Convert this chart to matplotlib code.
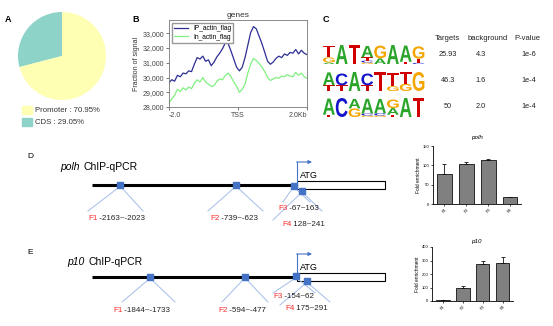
import numpy as np
import matplotlib.pyplot as plt
from matplotlib.patches import Rectangle, PathPatch
from matplotlib.textpath import TextPath
from matplotlib.font_manager import FontProperties
from matplotlib.transforms import Affine2D
from matplotlib.ticker import FuncFormatter

plt.rcParams['font.family'] = ['Liberation Sans', 'DejaVu Sans']

W, H = 553, 326

# ---- data ----
# A: peak annotation
region_names = ['CDS', 'Promoter']
region_pct = [29.05, 70.95]
region_colors = ['#8dd3c7', '#ffffb3']

# B: signal profile around TSS
profile_x = np.linspace(-2, 2, 50)
ip_signal = [29650, 29850, 29750, 30150, 30050, 30300, 30250, 30450, 30400, 30900,
             31350, 31250, 31450, 31100, 31200, 30800, 31050, 31400, 31650, 31950,
             32350, 32300, 31800, 31250, 30700, 30450, 30700, 31350, 32200, 33050,
             33450, 33300, 32800, 32300, 31700, 31100, 30900, 31050, 31300, 31450,
             31350, 31600, 31500, 31700, 31650, 31900, 31600, 31850, 31650, 31550]
input_signal = [28300, 28550, 28800, 29200, 29050, 29300, 29150, 29350, 29250, 29600,
                29850, 29700, 30000, 29700, 29550, 29400, 29450, 29750, 29900, 29850,
                30150, 30300, 30050, 29700, 29400, 29000, 29200, 29550, 30300, 30900,
                31300, 31150, 30950, 30700, 30400, 30000, 29800, 29900, 30000, 29950,
                30100, 30050, 30200, 30100, 30050, 30350, 30150, 30300, 30050, 29950]

# C: motifs, each column stacked bottom -> top as (letter, fraction)
motif_1 = [[('A', .08), ('G', .27), ('T', .62)], [('A', 1)], [('T', 1)],
           [('G', .08), ('C', .1), ('T', .17), ('A', .6)], [('A', .3), ('G', .67)],
           [('A', 1)], [('T', .12), ('A', .85)], [('C', .06), ('T', .22), ('G', .65)]]
motif_2 = [[('T', .3), ('A', .68)], [('T', .3), ('C', .62)], [('A', 1)],
           [('T', .3), ('C', .62)], [('T', 1)], [('G', .25), ('T', .72)],
           [('G', .38), ('T', .6)], [('G', 1)]]
motif_3 = [[('T', .12), ('A', .85)], [('C', 1)], [('G', .45), ('A', .5)],
           [('G', .08), ('C', .1), ('A', .78)], [('G', .08), ('C', .12), ('A', .75)],
           [('T', .12), ('A', .35), ('G', .45)], [('A', 1)], [('T', 1)]]
motif_targets = ['25.93', '46.3', '50']
motif_background = ['4.3', '1.6', '2.0']
motif_pvalue = ['1e-6', '1e-4', '1e-4']

# D/E: primers and ChIP-qPCR
primer_names = ['F1', 'F2', 'F3', 'F4']
polh_ranges = ['-2163~-2023', '-739~-623', '-67~163', '128~241']
p10_ranges = ['-1844~-1733', '-594~-477', '-154~62', '175~291']
polh_enrich = [78, 103, 114, 18]
polh_err = [26, 5, 3.5, 1]
p10_enrich = [5, 100, 275, 280]
p10_err = [1, 11, 18, 44]

base_colors = {'A': '#2aa52a', 'C': '#1414cc', 'G': '#f5a500', 'T': '#d00000'}
blue = '#4472c4'
fan_blue = '#a3bde8'

fig = plt.figure(figsize=(W / 100, H / 100), dpi=100)


def px_axes(x0, y0, x1, y1):
    return fig.add_axes([x0 / W, 1 - y1 / H, (x1 - x0) / W, (y1 - y0) / H])


bg = fig.add_axes([0, 0, 1, 1])
bg.set_xlim(0, W)
bg.set_ylim(H, 0)
bg.axis('off')

# ---- A ----
bg.text(5, 19, 'A', fontsize=6.5, fontweight='bold', va='center')
pa = px_axes(18, 12, 106, 100)
pa.pie(region_pct, colors=region_colors, startangle=90, counterclock=True,
       wedgeprops={'linewidth': 0})
pa.set_xlim(-1, 1)
pa.set_ylim(-1, 1)
for k, i in enumerate([1, 0]):
    bg.add_patch(Rectangle((22, 106 + k * 12), 10, 8, color=region_colors[i]))
    bg.text(35, 110 + k * 12, f'{region_names[i]} : {region_pct[i]:.2f}%',
            fontsize=5.6, va='center', color='#333')

# ---- B ----
bg.text(132, 19, 'B', fontsize=6.5, fontweight='bold', va='center')
ba = px_axes(169, 20, 307, 107)
ba.plot(profile_x, ip_signal, color='#2e2e95', lw=0.9, label='IP_actin_flag')
ba.plot(profile_x, input_signal, color='#80f080', lw=0.9, label='In_actin_flag')
ba.set_xlim(-2, 2)
ba.set_ylim(28000, 33900)
ba.set_yticks([28000, 29000, 30000, 31000, 32000, 33000])
ba.yaxis.set_major_formatter(FuncFormatter(lambda v, p: f'{v:,.0f}'))
ba.set_xticks([-2, 0, 2])
ba.set_xticklabels(['-2.0', 'TSS', '2.0Kb'])
xl = ba.get_xticklabels()
xl[0].set_ha('left')
xl[2].set_ha('right')
ba.tick_params(labelsize=5, colors='#444', length=2, width=0.5, pad=1.5)
for s in ba.spines.values():
    s.set_color('#777')
    s.set_linewidth(0.6)
ba.set_title('genes', fontsize=6, pad=2, color='#333')
ba.set_ylabel('Fraction of signal', fontsize=5, color='#333', labelpad=2)
ba.legend(loc='upper left', fontsize=4.8, handlelength=2, borderpad=0.3,
          labelspacing=0.2, edgecolor='#999', fancybox=False, framealpha=1)

# ---- C ----
bg.text(323, 19, 'C', fontsize=6.5, fontweight='bold', va='center')
logo_font = FontProperties(family='Liberation Sans', weight='bold')


def draw_letter(ch, x, ybot, w, h):
    tp = TextPath((0, 0), ch, size=1, prop=logo_font)
    bb = tp.get_extents()
    tr = Affine2D().translate(-bb.x0, -bb.y0).scale(w / bb.width, -h / bb.height).translate(x, ybot)
    bg.add_patch(PathPatch(tr.transform_path(tp), fc=base_colors[ch], ec='none'))


row_bottom = [64, 91, 117]
full_h = 19
for motif, yb in zip([motif_1, motif_2, motif_3], row_bottom):
    for j, col in enumerate(motif):
        y = yb
        for ch, frac in col:
            h = frac * full_h
            draw_letter(ch, 323 + j * 12.8, y, 11.8, h)
            y -= h

for x, hdr in zip([447, 488, 527], ['Targets', 'background', 'P-value']):
    bg.text(x, 39, hdr, fontsize=5.5, ha='center', va='center', color='#222')
for k, yb in enumerate([54, 80, 107]):
    bg.text(448, yb, motif_targets[k], fontsize=5.3, ha='center', va='center', color='#222')
    bg.text(481, yb, motif_background[k], fontsize=5.3, ha='center', va='center', color='#222')
    bg.text(529, yb, motif_pvalue[k], fontsize=5.3, ha='center', va='center', color='#222')


# ---- D / E schematics ----
def draw_locus(tag, tag_y, gene, gene_x, title_y, line_y, squares, fans, labels, ranges):
    bg.text(27, tag_y, tag, fontsize=6, va='center')
    t = bg.text(gene_x, title_y, gene, style='italic', fontsize=7.5, va='center')
    bg.annotate('ChIP-qPCR', xy=(1, 0.5), xycoords=t, xytext=(4, 0),
                textcoords='offset pixels', va='center', fontsize=7.5)
    bg.plot([92, 297], [line_y, line_y], color='black', lw=2.2, solid_capstyle='butt')
    bg.add_patch(Rectangle((297, line_y - 4), 88, 8, fc='white', ec='black', lw=0.8))
    bg.plot([297, 297], [line_y, line_y - 23], color=blue, lw=0.8)
    bg.annotate('', xy=(312, line_y - 23), xytext=(296.6, line_y - 23),
                arrowprops=dict(arrowstyle='-|>', color=blue, lw=0.8, mutation_scale=5,
                                shrinkA=0, shrinkB=0))
    bg.text(300, line_y - 10, 'ATG', fontsize=6.5, va='center')
    for (sx, sy), (l0, l1) in zip(squares, fans):
        bg.plot([sx - 2, l0[0]], [sy + 3, l0[1]], color=fan_blue, lw=0.7, zorder=2)
        bg.plot([sx + 2, l1[0]], [sy + 3, l1[1]], color=fan_blue, lw=0.7, zorder=2)
    for sx, sy in squares:
        bg.add_patch(Rectangle((sx - 3, sy - 3), 6, 6, color=blue, zorder=3))
    for name, rng, (lx, ly) in zip(primer_names, ranges, labels):
        t1 = bg.text(lx, ly, name, color='#ff2a2a', fontsize=5.8, va='center')
        bg.annotate(' ' + rng, xy=(1, 0.5), xycoords=t1, va='center', fontsize=5.8, color='#222')


draw_locus('D', 157, 'polh', 60, 167, 185,
           [(120, 185), (236, 185), (294, 186), (302, 191)],
           [((88, 211), (143, 211)), ((208, 211), (263, 211)),
            ((283, 202), (310, 202)), ((273, 220), (322, 211))],
           [(88, 218), (210, 218), (278, 209), (282, 225)], polh_ranges)
draw_locus('E', 253, 'p10', 67, 262, 277,
           [(150, 277), (245, 277), (296, 276), (307, 281)],
           [((122, 302), (175, 302)), ((222, 302), (268, 302)),
            ((273, 293), (315, 293)), ((280, 305), (330, 302))],
           [(113, 310), (218, 310), (273, 297), (285, 309)], p10_ranges)


# ---- bar charts ----
def bar_panel(rect, vals, errs, title, title_xy, yticks, xlim):
    ax = px_axes(*rect)
    pos = np.arange(len(vals))
    ax.bar(pos, vals, width=0.68, color='#808080', edgecolor='#111', lw=0.6)
    ax.errorbar(pos, vals, yerr=[np.zeros(len(errs)), errs], fmt='none', ecolor='#111',
                elinewidth=0.6, capsize=1.5, capthick=0.6)
    ax.set_ylim(0, yticks[-1])
    ax.set_yticks(yticks)
    ax.set_xlim(*xlim)
    ax.set_xticks(pos)
    ax.set_xticklabels(primer_names, rotation=45)
    ax.tick_params(labelsize=3, length=1.5, width=0.5, pad=1)
    ax.spines['top'].set_visible(False)
    ax.spines['right'].set_visible(False)
    for s in ['left', 'bottom']:
        ax.spines[s].set_linewidth(0.6)
    ax.set_ylabel('Fold enrichment', fontsize=3.5, labelpad=1)
    bg.text(title_xy[0], title_xy[1], title, fontsize=4.5, style='italic',
            ha='center', va='center')


bar_panel((433, 146, 521, 204), polh_enrich, polh_err, 'polh', (477, 138),
          [0, 50, 100, 150], (-0.52, 3.5))
bar_panel((432, 247, 513, 301), p10_enrich, p10_err, 'p10', (476, 242),
          [0, 100, 200, 300, 400], (-0.56, 3.53))

fig.savefig('out.png', dpi=100)
